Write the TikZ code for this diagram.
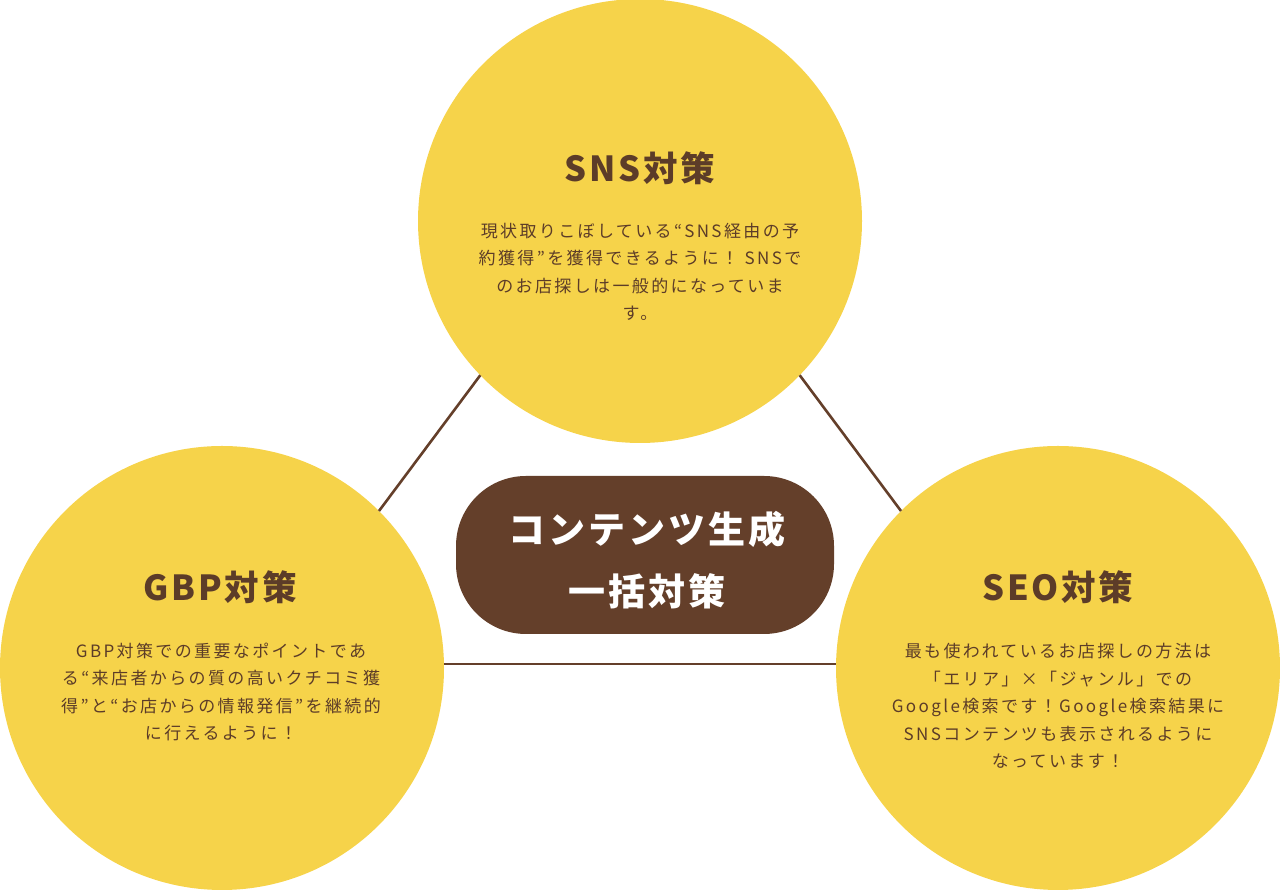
\documentclass[tikz,border=0pt]{standalone}
\usepackage{fontspec}
\setmainfont{Noto Sans CJK JP}
\newfontfamily\bodyfont[LetterSpace=14]{Noto Sans CJK JP}
\newfontfamily\headfont[LetterSpace=8]{Noto Sans CJK JP}
\usepackage{tikz}

\definecolor{cardyellow}{RGB}{246,211,74}
\definecolor{hubbrown}{RGB}{100,63,42}
\definecolor{inkbrown}{RGB}{92,60,40}

\tikzset{
    topic/.style={circle, fill=cardyellow, minimum size=444pt, inner sep=0pt, outer sep=0pt},
    hubbox/.style={rectangle, rounded corners=70pt, fill=hubbrown, minimum width=378pt, minimum height=158pt, inner sep=0pt},
    title/.style={text=inkbrown, font=\headfont\bfseries\fontsize{34.5}{40}\selectfont},
    body/.style={text=inkbrown, align=center, font=\bodyfont\fontsize{17}{27.5}\selectfont},
    link/.style={draw=hubbrown, line width=2.6pt}
}

\begin{document}
\begin{tikzpicture}[x=1pt, y=1pt]

    \useasboundingbox (0,0) rectangle (1280,890);

    % ==========================================
    % THE THREE TOPICS
    % ==========================================

    \node[topic] (sns) at (640, 669) {};
    \node[topic] (gbp) at (222, 222) {};
    \node[topic] (seo) at (1058, 222) {};

    % Connectors between the circles
    \draw[link] (sns.224) -- (gbp.45);
    \draw[link] (sns.-44) -- (seo.135);
    \draw[link] (gbp.1) -- (seo.179);

    % ==========================================
    % CENTRE BOX
    % ==========================================

    \node[hubbox] (hub) at (645, 335) {};
    \node[text=white, align=center, font=\headfont\bfseries\fontsize{37}{62}\selectfont] (hubtext) at (647, 330)
        {コンテンツ生成\\一括対策};

    % ==========================================
    % TEXTS
    % ==========================================

    % SNS
    \node[title] (snstitle) at (640, 722) {SNS対策};
    \node[body] (snsbody) at (640, 618)
        {現状取りこぼしている“SNS経由の予\\約獲得”を獲得できるように！ SNSで\\のお店探しは一般的になっていま\\す。};

    % GBP
    \node[title] (gbptitle) at (220, 303) {GBP対策};
    \node[body] (gbpbody) at (221, 198)
        {GBP対策での重要なポイントであ\\る“来店者からの質の高いクチコミ獲\\得”と“お店からの情報発信”を継続的\\に行えるように！};

    % SEO
    \node[title] (seotitle) at (1058, 303) {SEO対策};
    \node[body] (seobody) at (1058, 184)
        {最も使われているお店探しの方法は\\「エリア」×「ジャンル」での\\Google検索です！Google検索結果に\\SNSコンテンツも表示されるように\\なっています！};

\end{tikzpicture}
\end{document}
